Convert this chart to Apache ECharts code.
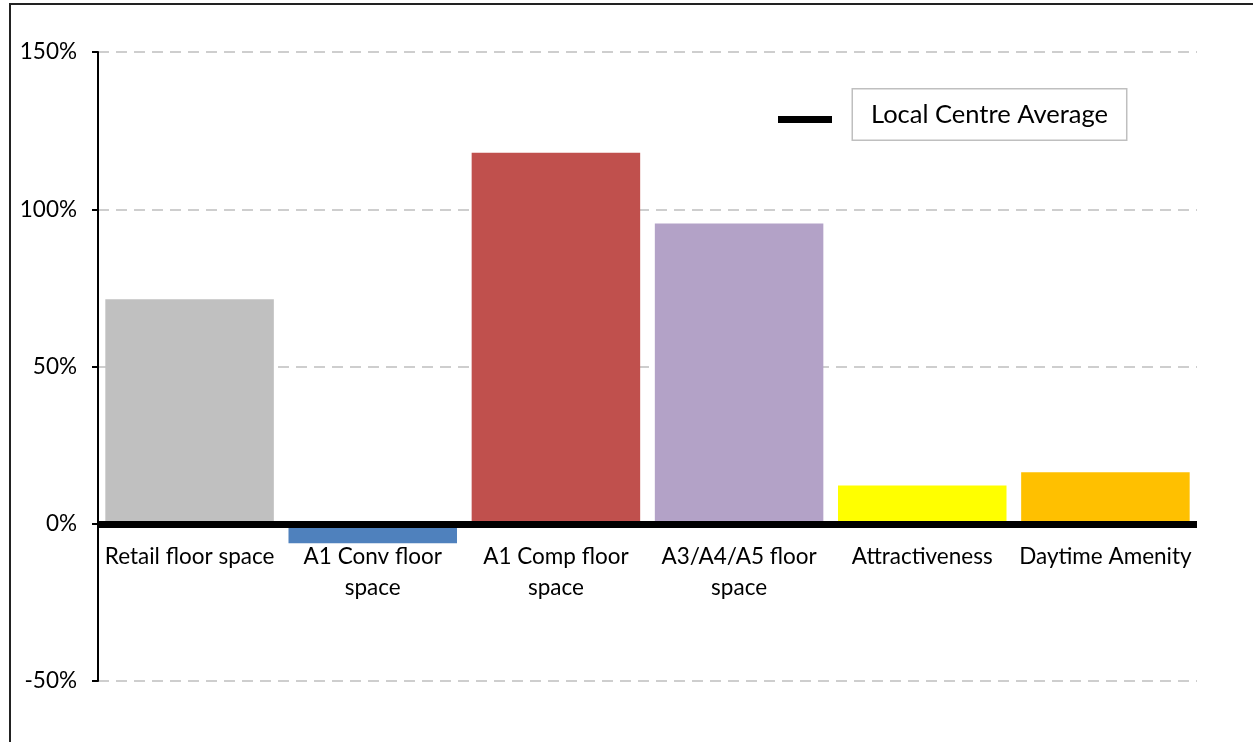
<!DOCTYPE html>
<html>
<head>
<meta charset="utf-8">
<script src="https://cdn.jsdelivr.net/npm/echarts@6/dist/echarts.min.js"></script>
<style>
  html, body { margin: 0; padding: 0; background: #fff; }
  #chart { width: 1253px; height: 742px; }
</style>
</head>
<body>
<div id="chart"></div>
<script>
// Indicator names (tick labels wrap onto two lines where needed)
const categories = [
  'Retail floor space',
  'A1 Conv floor\nspace',
  'A1 Comp floor\nspace',
  'A3/A4/A5 floor\nspace',
  'Attractiveness',
  'Daytime Amenity'
];
// Difference from the local centre average, in percent
const values = [71.4, -6.2, 118.0, 95.5, 12.2, 16.4];
const barColors = ['#C0C0C0', '#4F81BD', '#C0504D', '#B3A2C7', '#FFFF00', '#FFC000'];
// Reference level: the local centre average
const averageLevel = 0;
const averageName = 'Local Centre Average';
const yTicks = { min: -50, max: 150, step: 50 };

const font = 'Lato, "Open Sans", sans-serif';
const W = 1253, H = 742;
const grid = { left: 98, right: 56, top: 52, bottom: 61 };
const plotHeight = H - grid.top - grid.bottom;
// lift the category axis from the bottom edge up to the zero level
const zeroOffset = -plotHeight * (averageLevel - yTicks.min) / (yTicks.max - yTicks.min);

const chart = echarts.init(document.getElementById('chart'), null, { renderer: 'canvas' });

chart.setOption({
  animation: false,
  backgroundColor: '#ffffff',
  graphic: [{
    type: 'rect',
    shape: { x: 10, y: 4, width: 1300, height: 800 },
    style: { fill: 'none', stroke: '#222', lineWidth: 2 },
    silent: true, z: 0
  }],
  grid: Object.assign({ containLabel: false, outerBoundsMode: 'none' }, grid),
  legend: {
    left: 778, top: 88, padding: 0,
    itemWidth: 70, itemHeight: 17,
    data: [{
      name: averageName,
      // a bar low on the left, with blank room that separates it from the boxed text
      icon: 'path://M0,10L54,10L54,17L0,17Z M70,0L70,17',
      itemStyle: { color: '#000' }
    }],
    textStyle: {
      fontFamily: font, fontSize: 25.5, color: '#000',
      borderColor: '#BFBFBF', borderWidth: 1.5,
      padding: [12, 18, 12, 18],
      backgroundColor: '#fff'
    },
    selectedMode: false
  },
  xAxis: {
    type: 'category',
    data: categories,
    offset: zeroOffset,
    axisLine: { show: false, onZero: false },
    axisTick: { show: false },
    axisLabel: {
      fontFamily: font, fontSize: 22.5, color: '#000',
      margin: 17, lineHeight: 31, interval: 0
    }
  },
  yAxis: {
    type: 'value',
    min: yTicks.min, max: yTicks.max, interval: yTicks.step,
    axisLine: { show: true, lineStyle: { color: '#000', width: 2 } },
    axisTick: { show: true, length: 6, lineStyle: { color: '#000', width: 2 } },
    axisLabel: {
      fontFamily: font, fontSize: 22.5, color: '#000', margin: 21,
      formatter: v => v + '%'
    },
    splitLine: {
      show: true,
      lineStyle: { color: '#BFBFBF', width: 1.5, type: [11, 7] }
    }
  },
  series: [
    {
      name: 'Indicators',
      type: 'bar',
      barCategoryGap: '8%',
      data: values.map((v, i) => ({ value: v, itemStyle: { color: barColors[i] } })),
      z: 2
    },
    {
      name: averageName,
      type: 'line',
      data: [],
      itemStyle: { color: '#000' },
      lineStyle: { color: '#000', width: 7 },
      markLine: {
        silent: true,
        symbol: 'none',
        label: { show: false },
        lineStyle: { color: '#000', width: 7, type: 'solid', cap: 'butt' },
        data: [{ yAxis: averageLevel }]
      },
      z: 3
    }
  ]
});
</script>
</body>
</html>
